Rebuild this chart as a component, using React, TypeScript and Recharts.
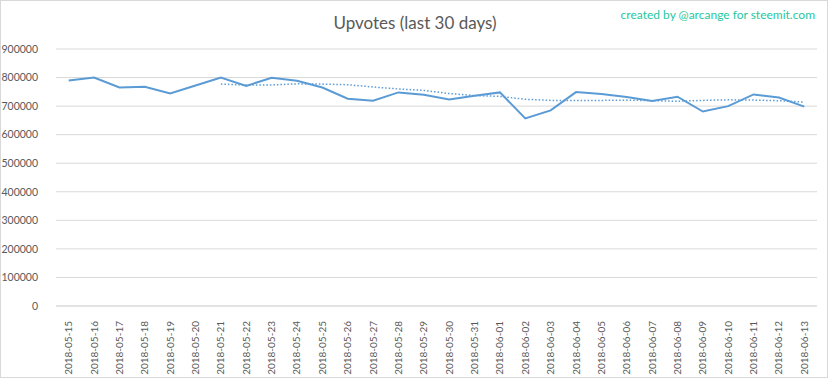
import React from "react";
import { LineChart, Line, XAxis, YAxis, CartesianGrid } from "recharts";

const dates = [
  "2018-05-15", "2018-05-16", "2018-05-17", "2018-05-18", "2018-05-19", "2018-05-20",
  "2018-05-21", "2018-05-22", "2018-05-23", "2018-05-24", "2018-05-25", "2018-05-26",
  "2018-05-27", "2018-05-28", "2018-05-29", "2018-05-30", "2018-05-31", "2018-06-01",
  "2018-06-02", "2018-06-03", "2018-06-04", "2018-06-05", "2018-06-06", "2018-06-07",
  "2018-06-08", "2018-06-09", "2018-06-10", "2018-06-11", "2018-06-12", "2018-06-13",
];

const upvotes = [
  790000, 800000, 765000, 768000, 744000, 772000, 800000, 771000, 799000, 789000,
  765000, 726000, 719000, 748000, 740000, 723000, 736000, 748000, 657000, 685000,
  749000, 742000, 732000, 718000, 733000, 681000, 700000, 741000, 730000, 698000,
];

// dotted trend line (starts at 2018-05-21)
const trend: (number | null)[] = [
  null, null, null, null, null, null, 777000, 774000, 774000, 778000,
  777000, 775000, 767000, 760000, 755000, 744000, 737000, 734000, 724000, 720000,
  720000, 720000, 721000, 719000, 717000, 720000, 722000, 721000, 719000, 714000,
];

const yTicks = [0, 100000, 200000, 300000, 400000, 500000, 600000, 700000, 800000, 900000];

const data = dates.map((d, i) => ({ date: d, upvotes: upvotes[i], trend: trend[i] }));

const FONT = "'Lato', 'Liberation Sans', sans-serif";

const XTick = (props: any) => {
  const { x, y, payload } = props;
  return (
    <text
      x={0}
      y={0}
      transform={`translate(${x + 3.5},${y + 7}) rotate(-90)`}
      textAnchor="end"
      fontSize={10}
      fontFamily={FONT}
      fill="#595959"
    >
      {payload.value}
    </text>
  );
};

export default function App() {
  return (
    <div
      style={{
        position: "absolute",
        left: 0,
        top: 0,
        width: 828,
        height: 378,
        border: "1px solid #d9d9d9",
        boxSizing: "border-box",
        background: "#fff",
      }}
    >
      <div style={{ position: "absolute", left: -1, top: -1 }}>
        <LineChart
          width={832}
          height={379}
          data={data}
          margin={{ top: 49, right: 15, bottom: 0, left: 0 }}
        >
          <text
            x={415}
            y={29}
            textAnchor="middle"
            fontSize={17}
            fontFamily={FONT}
            fill="#595959"
          >
            Upvotes (last 30 days)
          </text>
          <text
            x={815}
            y={19}
            textAnchor="end"
            fontSize={12}
            fontFamily={FONT}
            fill="#1fc8a0"
          >
            created by @arcange for steemit.com
          </text>
          <CartesianGrid vertical={false} stroke="#d9d9d9" strokeWidth={1} />
          <XAxis
            dataKey="date"
            interval={0}
            height={73}
            padding={{ left: 12.7, right: 12.7 }}
            tickLine={false}
            axisLine={{ stroke: "#d9d9d9" }}
            tick={<XTick />}
          />
          <YAxis
            width={56}
            domain={[0, 900000]}
            ticks={yTicks}
            interval={0}
            tickLine={false}
            axisLine={false}
            tickMargin={12}
            tick={{ fontSize: 10.5, fontFamily: FONT, fill: "#595959" }}
          />
          <Line
            type="linear"
            dataKey="upvotes"
            stroke="#5b9bd5"
            strokeWidth={2}
            dot={false}
            isAnimationActive={false}
          />
          <Line
            type="linear"
            dataKey="trend"
            stroke="#5b9bd5"
            strokeWidth={1.5}
            strokeDasharray="1.5 2"
            dot={false}
            isAnimationActive={false}
          />
        </LineChart>
      </div>
    </div>
  );
}
